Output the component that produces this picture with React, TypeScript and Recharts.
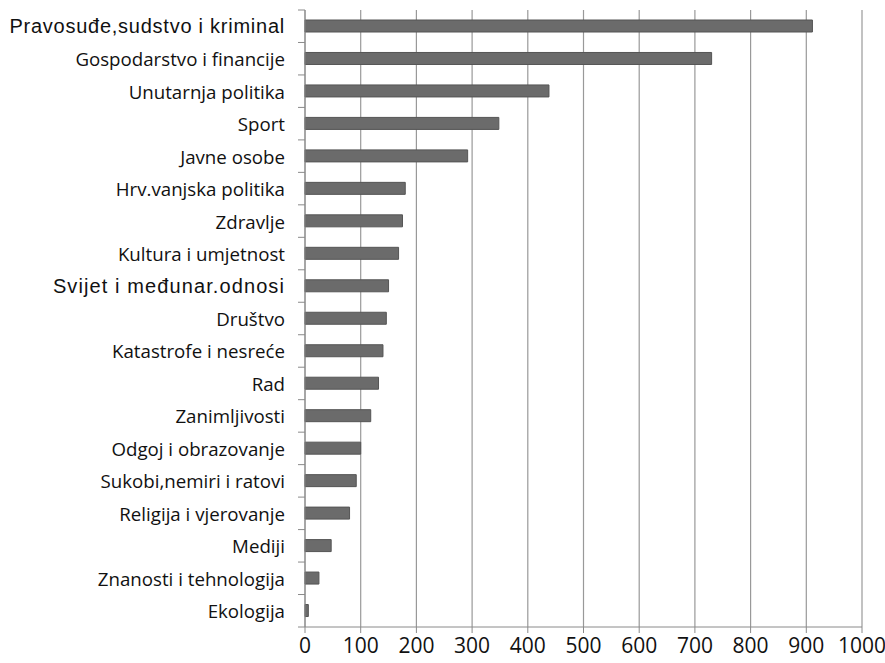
import { BarChart, Bar, XAxis, YAxis, CartesianGrid } from 'recharts';

const categories = [
  'Pravosuđe,sudstvo i kriminal',
  'Gospodarstvo i financije',
  'Unutarnja politika',
  'Sport',
  'Javne osobe',
  'Hrv.vanjska politika',
  'Zdravlje',
  'Kultura i umjetnost',
  'Svijet i međunar.odnosi',
  'Društvo',
  'Katastrofe i nesreće',
  'Rad',
  'Zanimljivosti',
  'Odgoj i obrazovanje',
  'Sukobi,nemiri i ratovi',
  'Religija i vjerovanje',
  'Mediji',
  'Znanosti i tehnologija',
  'Ekologija',
];

const counts = [911, 730, 438, 348, 292, 180, 175, 168, 150, 146, 140, 132, 118, 100, 92, 80, 47, 25, 6];

const xTicks = [0, 100, 200, 300, 400, 500, 600, 700, 800, 900, 1000];

// these two labels are set in a different (Arial-like) face in the original
const arialLabels = ['Pravosuđe,sudstvo i kriminal', 'Svijet i međunar.odnosi'];

const data = categories.map((name, i) => ({ name, value: counts[i] }));

const AXIS_COLOR = '#8a8a8a';

function CategoryTick(props: any) {
  const { x, y, payload, index, visibleTicksCount } = props;
  const half = payload.offset ?? 16.25;
  const isArial = arialLabels.includes(payload.value);
  const last = index === visibleTicksCount - 1;
  const spacing = payload.value === arialLabels[1] ? 1.1 : isArial ? 0.75 : 0;
  return (
    <g>
      <line x1={x + 13} x2={x + 20} y1={y - half} y2={y - half} stroke={AXIS_COLOR} />
      {last && <line x1={x + 13} x2={x + 20} y1={y + half} y2={y + half} stroke={AXIS_COLOR} />}
      <text
        x={x}
        y={y}
        textAnchor="end"
        dominantBaseline="central"
        fill="#111"
        fontFamily={isArial ? 'Liberation Sans, Arial, sans-serif' : 'Open Sans, sans-serif'}
        fontSize={isArial ? 20 : 18.7}
        letterSpacing={spacing}
      >
        {payload.value}
      </text>
    </g>
  );
}

export default function App() {
  return (
    <div style={{ position: 'absolute', left: 0, top: 0, background: '#fff' }}>
      <BarChart
        width={885}
        height={663}
        data={data}
        layout="vertical"
        margin={{ top: 10, right: 23, bottom: 0, left: 0 }}
        barSize={12}
      >
        <CartesianGrid horizontal={false} stroke="#999" strokeWidth={1.2} />
        <XAxis
          type="number"
          domain={[0, 1000]}
          ticks={xTicks}
          interval={0}
          height={36}
          tickSize={6}
          tickMargin={5}
          stroke={AXIS_COLOR}
          tick={{ fill: '#111', fontSize: 21, fontFamily: 'Open Sans, sans-serif' }}
        />
        <YAxis
          type="category"
          dataKey="name"
          width={305}
          interval={0}
          tickSize={7}
          tickMargin={13}
          tickLine={false}
          stroke={AXIS_COLOR}
          tick={<CategoryTick />}
        />
        <Bar dataKey="value" fill="#6b6b6b" stroke="#555" strokeWidth={1} isAnimationActive={false} />
      </BarChart>
    </div>
  );
}
